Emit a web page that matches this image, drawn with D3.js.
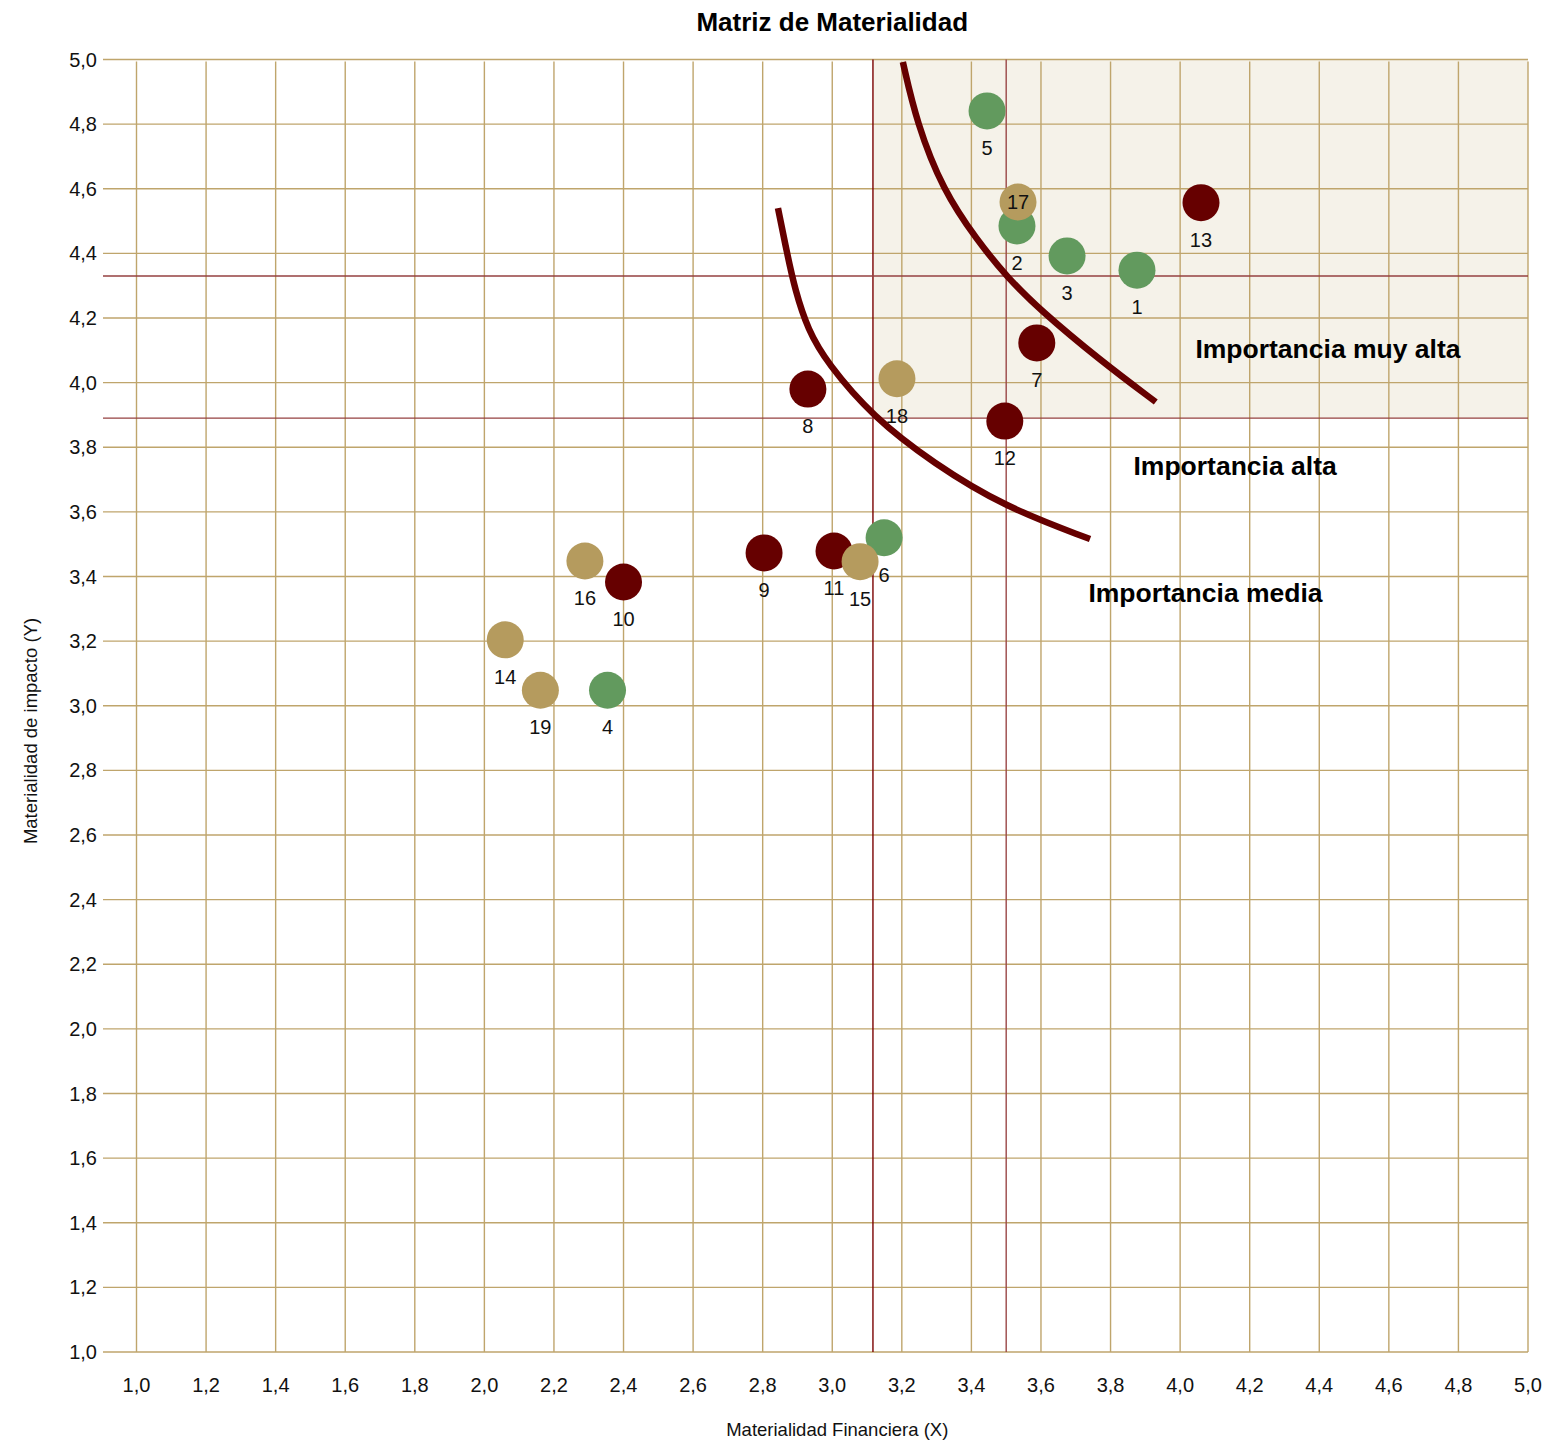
<!DOCTYPE html>
<html>
<head>
<meta charset="utf-8">
<script src="https://cdn.jsdelivr.net/npm/d3@7"></script>
<style>
  html, body { margin: 0; padding: 0; background: #ffffff; }
  svg { display: block; font-family: "Liberation Sans", Arial, Helvetica, sans-serif; }
</style>
</head>
<body>
<script>
// ---------------- DATA ----------------
const ids      = ["1","2","3","4","5","6","7","8","9","10","11","12","13","14","15","16","17","18","19"];
const xValues  = [3.876,3.531,3.675,2.354,3.445,3.149,3.588,2.930,2.804,2.400,3.005,3.496,4.060,2.060,3.080,2.289,3.534,3.186,2.161];
const yValues  = [4.348,4.485,4.392,3.048,4.841,3.520,4.123,3.980,3.473,3.383,3.479,3.881,4.557,3.204,3.446,3.448,4.559,4.012,3.048];
const groups   = ["A","A","A","A","A","A","B","B","B","B","B","B","B","C","C","C","C","C","C"];
const groupNames  = ["A","B","C"];
const groupColors = ["#629a5e","#660000","#b59b5e"];
const labelsInside = ["17"];

const xTicks = [1.0,1.2,1.4,1.6,1.8,2.0,2.2,2.4,2.6,2.8,3.0,3.2,3.4,3.6,3.8,4.0,4.2,4.4,4.6,4.8,5.0];
const yTicks = [1.0,1.2,1.4,1.6,1.8,2.0,2.2,2.4,2.6,2.8,3.0,3.2,3.4,3.6,3.8,4.0,4.2,4.4,4.6,4.8,5.0];

// threshold lines
const vLines = [3.117, 3.5];
const hLines = [4.33, 3.89];
// shaded "very high" zone [x0, y0]
const zoneStart = [3.117, 3.89];

// boundary curves
const curve1X = [3.203,3.243,3.318,3.416,3.502,3.597,3.769,3.930];
const curve1Y = [4.992,4.803,4.596,4.441,4.327,4.225,4.070,3.940];
const curve2X = [2.844,2.870,2.893,2.930,2.985,3.117,3.290,3.496,3.741];
const curve2Y = [4.540,4.401,4.287,4.163,4.061,3.894,3.751,3.615,3.516];

// region annotations
const zoneTexts = ["Importancia muy alta","Importancia alta","Importancia media"];
const zoneTextX = [4.425, 4.158, 4.073];
const zoneTextY = [4.076, 3.714, 3.321];

const titleText = "Matriz de Materialidad";
const xTitle = "Materialidad Financiera (X)";
const yTitle = "Materialidad de impacto (Y)";

// ---------------- CHART ----------------
const W = 1552, H = 1441;
const plotLeft = 103;
const x = d3.scaleLinear().domain([1, 5]).range([136.5, 1528]);
const y = d3.scaleLinear().domain([1, 5]).range([1352, 59.5]);
const color = d3.scaleOrdinal().domain(groupNames).range(groupColors);
const loc = d3.formatLocale({decimal: ",", thousands: ".", grouping: [3], currency: ["", "€"]});
const fmt = loc.format(".1f");

const svg = d3.select("body").append("svg").attr("width", W).attr("height", H);

// shaded zone
svg.append("rect")
  .attr("x", x(zoneStart[0])).attr("y", y(5))
  .attr("width", x(5) - x(zoneStart[0]))
  .attr("height", y(zoneStart[1]) - y(5))
  .attr("fill", "#f5f2e9");

const gridColor = "#bfa56c";
// horizontal gridlines
svg.append("g").selectAll("line").data(yTicks).join("line")
  .attr("x1", plotLeft).attr("x2", x(5))
  .attr("y1", d => y(d)).attr("y2", d => y(d))
  .attr("stroke", gridColor).attr("stroke-width", 1.4);
// vertical gridlines
svg.append("g").selectAll("line").data(xTicks).join("line")
  .attr("x1", d => x(d)).attr("x2", d => x(d))
  .attr("y1", y(5) + 2).attr("y2", y(1))
  .attr("stroke", gridColor).attr("stroke-width", 1.4);

// threshold lines
svg.append("line")
  .attr("x1", x(vLines[0])).attr("x2", x(vLines[0]))
  .attr("y1", y(5)).attr("y2", y(1))
  .attr("stroke", "#7a0000").attr("stroke-width", 1.4);
svg.append("line")
  .attr("x1", x(vLines[1])).attr("x2", x(vLines[1]))
  .attr("y1", y(5)).attr("y2", y(1))
  .attr("stroke", "#9a4646").attr("stroke-width", 1.4);
svg.append("g").selectAll("line").data(hLines).join("line")
  .attr("x1", plotLeft).attr("x2", x(5))
  .attr("y1", d => y(d)).attr("y2", d => y(d))
  .attr("stroke", "#954040").attr("stroke-width", 1.4);

// axes tick labels
svg.append("g").selectAll("text").data(yTicks).join("text")
  .attr("x", 97).attr("y", d => y(d)).attr("dy", "0.35em")
  .attr("text-anchor", "end").attr("font-size", 20).attr("fill", "#111")
  .text(d => fmt(d));
svg.append("g").selectAll("text").data(xTicks).join("text")
  .attr("x", d => x(d)).attr("y", 1392)
  .attr("text-anchor", "middle").attr("font-size", 20).attr("fill", "#111")
  .text(d => fmt(d));

// boundary curves
const line = d3.line().x(d => x(d[0])).y(d => y(d[1])).curve(d3.curveBasis);
[[curve1X, curve1Y], [curve2X, curve2Y]].forEach(([cx, cy]) => {
  svg.append("path")
    .attr("d", line(cx.map((v, i) => [v, cy[i]])))
    .attr("fill", "none").attr("stroke", "#660000").attr("stroke-width", 6.5)
    .attr("stroke-linecap", "butt");
});

// points
const pts = ids.map((id, i) => ({id, x: xValues[i], y: yValues[i], g: groups[i]}));
svg.append("g").selectAll("circle").data(pts).join("circle")
  .attr("cx", d => x(d.x)).attr("cy", d => y(d.y)).attr("r", 18.5)
  .attr("fill", d => color(d.g));

// point labels
svg.append("g").selectAll("text").data(pts).join("text")
  .attr("x", d => x(d.x))
  .attr("y", d => labelsInside.includes(d.id) ? y(d.y) + 7 : y(d.y) + 44)
  .attr("text-anchor", "middle").attr("font-size", 20).attr("fill", "#111")
  .text(d => d.id);

// zone annotations
svg.append("g").selectAll("text").data(zoneTexts).join("text")
  .attr("x", (d, i) => x(zoneTextX[i])).attr("y", (d, i) => y(zoneTextY[i]))
  .attr("text-anchor", "middle").attr("font-size", 26.5).attr("font-weight", "bold")
  .attr("fill", "#000").text(d => d);

// title
svg.append("text").attr("x", x(3)).attr("y", 31)
  .attr("text-anchor", "middle").attr("font-size", 26).attr("font-weight", "bold")
  .attr("fill", "#000").text(titleText);

// axis titles
svg.append("text").attr("x", x(3) + 5).attr("y", 1436)
  .attr("text-anchor", "middle").attr("font-size", 18.5).attr("fill", "#111")
  .text(xTitle);
svg.append("text").attr("transform", "translate(37,731) rotate(-90)")
  .attr("text-anchor", "middle").attr("font-size", 18.5).attr("fill", "#111")
  .text(yTitle);
</script>
</body>
</html>
